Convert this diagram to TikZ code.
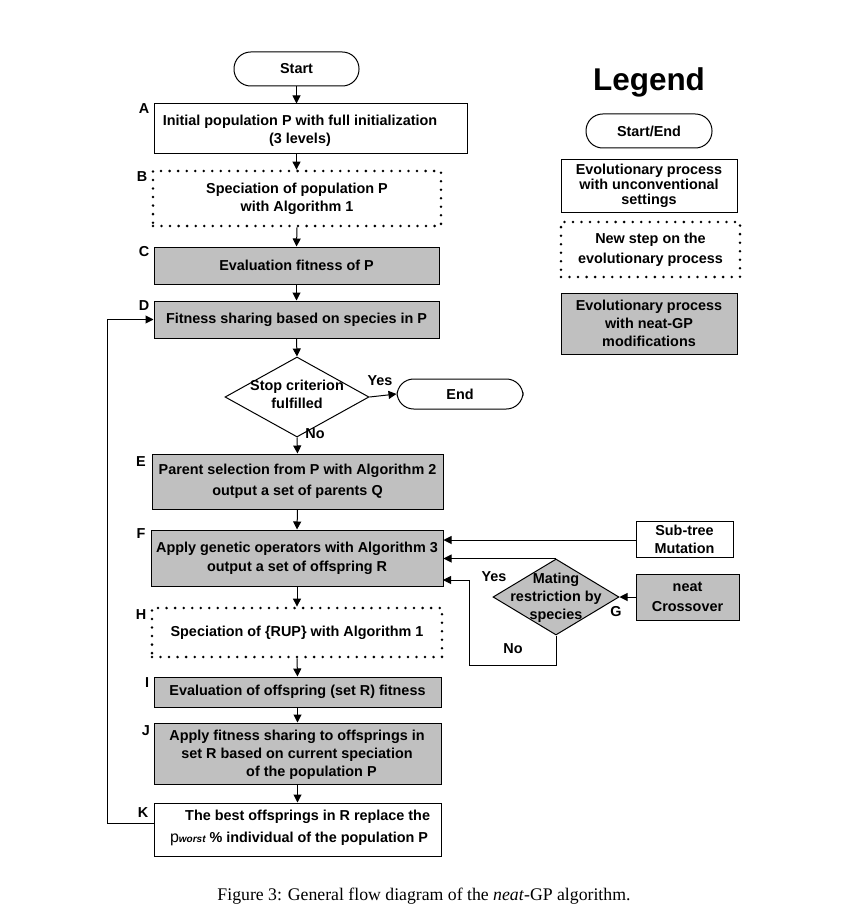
\documentclass[tikz,border=0pt]{standalone}
\usepackage{fontspec}
\setmainfont{Liberation Sans}
\newfontfamily\capfont{Liberation Serif}
\usetikzlibrary{arrows.meta,shapes.geometric}
\definecolor{boxgray}{HTML}{C0C0C0}
\newdimen\pxu \pxu=0.75pt
\tikzset{
  base/.style={draw, line width=0.75pt, font=\bfseries\fontsize{10.8}{13.5}\selectfont, align=center, inner sep=0pt},
  term/.style={base, rounded corners=12.5pt, fill=white},
  wbox/.style={base, fill=white},
  gbox/.style={base, fill=boxgray},
  dotbox/.style={base, line width=2.1pt, dash pattern=on 0pt off 6.4pt, line cap=round},
  dia/.style={base, shape=diamond},
  txt/.style={font=\bfseries\fontsize{10.8}{13.5}\selectfont, align=center, inner sep=0pt},
  lbl/.style={font=\bfseries\fontsize{10.8}{13}\selectfont, inner sep=0pt},
  arr/.style={-{Triangle[length=6pt,width=6pt]}, line width=0.75pt},
  ln/.style={line width=0.75pt}
}
\begin{document}
\begin{tikzpicture}[x=0.75pt,y=-0.75pt]
\useasboundingbox (0,0) rectangle (863,913);
% main column
\node[term, minimum width=125\pxu, minimum height=34\pxu] (start) at (296.5,69) {Start};
\node[wbox, minimum width=313\pxu, minimum height=50\pxu] (A) at (310.5,129) {};
\node[txt] (At) at (300,131) {Initial population P with full initialization\\(3 levels)};
\node[dotbox, minimum width=288\pxu, minimum height=55\pxu] (B) at (297,198.5) {Speciation of population P\\with Algorithm 1};
\node[gbox, minimum width=285\pxu, minimum height=37\pxu] (C) at (296.5,265.5) {Evaluation fitness of P};
\node[gbox, minimum width=285\pxu, minimum height=37\pxu] (D) at (296.5,319.5) {Fitness sharing based on species in P};
\node[dia, minimum width=144\pxu, minimum height=80\pxu] (dec) at (297,397) {};
\node[txt] (dect) at (297,394) {Stop criterion\\fulfilled};
\node[term, minimum width=126\pxu, minimum height=30\pxu] (end) at (460,394) {End};
\node[gbox, minimum width=291\pxu, minimum height=55\pxu] (E) at (297.5,481.5) {Parent selection from P with Algorithm 2\\[2.3pt]output a set of parents Q};
\node[gbox, minimum width=292\pxu, minimum height=56\pxu] (F) at (297,558) {Apply genetic operators with Algorithm 3\\[1pt]output a set of offspring R};
\node[dotbox, minimum width=290\pxu, minimum height=49\pxu] (H) at (297,632.5) {Speciation of \{RUP\} with Algorithm 1};
\node[gbox, minimum width=287\pxu, minimum height=30\pxu] (I) at (297.5,692) {Evaluation of offspring (set R) fitness};
\node[gbox, minimum width=287\pxu, minimum height=61\pxu] (J) at (297.5,753.5) {};
\node[txt] (Jt) at (297,755) {Apply fitness sharing to offsprings in\\set R based on current speciation\\\hspace*{2em}of the population P};
\node[wbox, minimum width=287\pxu, minimum height=53\pxu] (K) at (297.5,829.5) {};
\node[txt] (Kt) at (299,828) {\hspace*{1.2em}The best offsprings in R replace the\\[2.5pt]{\mdseries\fontsize{12}{13}\selectfont p}{\fontsize{7.5}{8}\selectfont\itshape worst} \% individual of the population P};
% right side
\node[wbox, minimum width=97\pxu, minimum height=36\pxu] (sub) at (684.5,539) {Sub-tree\\Mutation};
\node[gbox, minimum width=103\pxu, minimum height=46\pxu] (cross) at (687.5,597) {neat\\[2pt]Crossover};
\node[dia, fill=boxgray, minimum width=126\pxu, minimum height=76\pxu] (G) at (556,597) {};
\node[txt] (Gt) at (556,598) {Mating\\restriction by\\species};
% letters
\node[lbl] at (144,109) {A};
\node[lbl] at (142,177) {B};
\node[lbl] at (144,252) {C};
\node[lbl] at (144,306) {D};
\node[lbl] at (141,462) {E};
\node[lbl] at (141,534) {F};
\node[lbl] at (616,612) {G};
\node[lbl] at (141,615) {H};
\node[lbl] at (147,683) {I};
\node[lbl] at (146,731) {J};
\node[lbl] at (143,813) {K};
% connectors
\draw[arr] (start.south) -- (start.south |- A.north);
\draw[arr] (start.south |- A.south) -- (start.south |- B.north);
\draw[arr] (B.south) -- (C.north);
\draw[arr] (C.south) -- (D.north);
\draw[arr] (D.south) -- (dec.north);
\draw[arr] (dec.south) -- (E.north);
\draw[arr] (dec.east) -- (end.west);
\draw[arr] (E.south) -- (F.north);
\draw[arr] (F.south) -- (H.north);
\draw[arr] (H.south) -- (I.north);
\draw[arr] (I.south) -- (J.north);
\draw[arr] (J.south) -- (K.north);
\coordinate (fb) at (107,823);
\draw[arr] (K.west |- fb) -- (fb) |- (D.west);
\draw[arr] (sub.west |- 0,540) -- (F.east |- 0,540);
\draw[arr] (G.north) -- (G.north -| F.east);
\coordinate (nc) at (469,665);
\coordinate (fy) at (443,580);
\draw[arr] (G.south) |- (nc) |- (fy);
\draw[arr] (cross.west) -- (G.east);
% branch labels
\node[lbl] at (380,381) {Yes};
\node[lbl] at (315,434) {No};
\node[lbl] at (494,577) {Yes};
\node[lbl] at (513,649) {No};
% legend
\node[font=\bfseries\fontsize{23.6}{26}\selectfont, inner sep=0pt] (leg) at (649,82) {Legend};
\node[term, minimum width=126\pxu, minimum height=34\pxu] (l1) at (649,131) {Start/End};
\node[wbox, minimum width=176\pxu, minimum height=52\pxu, font=\bfseries\fontsize{10.8}{11.3}\selectfont] (l2) at (649,186) {Evolutionary process\\with unconventional\\settings};
\node[dotbox, minimum width=179\pxu, minimum height=55\pxu] (l3) at (650.5,249.5) {New step on the\\[1.5pt]evolutionary process};
\node[gbox, minimum width=176\pxu, minimum height=61\pxu] (l4) at (649,323.5) {Evolutionary process\\with neat-GP\\modifications};
% caption
\node[font=\capfont\fontsize{13.3}{15}\selectfont, inner sep=0pt] (cap) at (424,896) {Figure 3: General flow diagram of the \textit{neat}-GP algorithm.};
\end{tikzpicture}
\end{document}
